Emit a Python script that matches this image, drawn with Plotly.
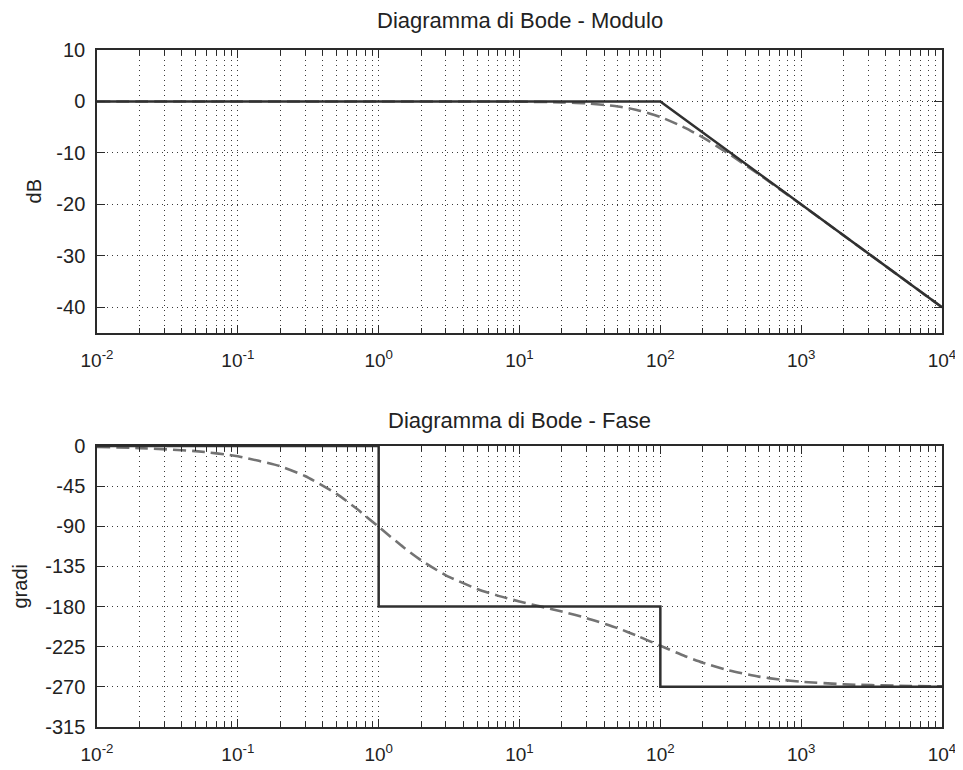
import plotly.graph_objects as go
from plotly.subplots import make_subplots

# ---- tick values / labels ----
freq_ticks = [0.01, 0.1, 1, 10, 100, 1000, 10000]
freq_tick_labels = ['10<sup>-2</sup>', '10<sup>-1</sup>', '10<sup>0</sup>', '10<sup>1</sup>',
                    '10<sup>2</sup>', '10<sup>3</sup>', '10<sup>4</sup>']
mag_ticks = [10, 0, -10, -20, -30, -40]
mag_tick_labels = ['10', '0', '-10', '-20', '-30', '-40']
phase_ticks = [0, -45, -90, -135, -180, -225, -270, -315]
phase_tick_labels = ['0', '-45', '-90', '-135', '-180', '-225', '-270', '-315']

# ---- magnitude: asymptotic (solid) ----
mag_asym_w = [0.01, 100, 10000]
mag_asym_db = [0, 0, -40]

# ---- magnitude: real (dashed) ----
mag_w = [0.01, 0.1, 1, 10, 20, 30, 50, 70, 100, 150, 200, 300, 500, 700, 1000, 2000, 5000, 10000]
mag_db = [0, 0, 0, -0.04, -0.17, -0.37, -0.97, -1.74, -3.01, -5.12, -6.99, -10.0, -14.15, -16.99,
          -20.04, -26.03, -33.98, -40.0]

# ---- phase: asymptotic (solid) ----
phase_asym_w = [0.01, 1, 1, 100, 100, 10000]
phase_asym_deg = [0, 0, -180, -180, -270, -270]

# ---- phase: real (dashed) ----
phase_w = [0.01, 0.02, 0.05, 0.1, 0.2, 0.3, 0.5, 0.7, 1, 1.5, 2, 3, 5, 7, 10, 15, 20, 30, 50, 70,
           100, 150, 200, 300, 500, 700, 1000, 2000, 5000, 10000]
phase_deg = [-1.1, -2.3, -5.7, -11.5, -22.7, -33.6, -53.4, -70.4, -90.6, -113.5, -128.0, -144.9,
             -160.2, -167.7, -174.3, -180.9, -185.6, -192.9, -204.3, -213.4, -223.9, -235.6,
             -242.9, -251.2, -258.5, -261.7, -264.2, -267.1, -268.8, -269.4]

titles = ['Diagramma di Bode - Modulo', 'Diagramma di Bode - Fase']
ytitles = ['dB', 'gradi']

minor_vals = [m * 10.0 ** k for k in range(-2, 4) for m in range(2, 10)]

AX = '#2a2a2a'
GRID = '#3a3a3a'
SOLID = '#303030'
DASH = '#737373'
FONT = 'Liberation Sans, Arial, Helvetica, sans-serif'

fig = make_subplots(rows=2, cols=1)

fig.add_trace(go.Scatter(x=mag_w, y=mag_db, mode='lines', line=dict(color=DASH, width=2.6, dash='13px,6px', shape='spline', smoothing=0.6)), row=1, col=1)
fig.add_trace(go.Scatter(x=mag_asym_w, y=mag_asym_db, mode='lines', line=dict(color=SOLID, width=2.5)), row=1, col=1)
fig.add_trace(go.Scatter(x=phase_w, y=phase_deg, mode='lines', line=dict(color=DASH, width=2.6, dash='13px,6px', shape='spline', smoothing=0.6)), row=2, col=1)
fig.add_trace(go.Scatter(x=phase_asym_w, y=phase_asym_deg, mode='lines', line=dict(color=SOLID, width=2.5)), row=2, col=1)

xcommon = dict(
    type='log', range=[-2, 4], tickmode='array', tickvals=freq_ticks, ticktext=freq_tick_labels,
    ticks='inside', ticklen=8, tickwidth=1.2, tickcolor=AX, tickfont=dict(size=19),
    showline=True, linecolor=AX, linewidth=1.5, mirror='ticks',
    showgrid=True, gridcolor=GRID, griddash='1px,4px', gridwidth=1, zeroline=False,
    ticklabelstandoff=9,
    minor=dict(tickmode='array', tickvals=minor_vals, ticks='inside', ticklen=5, tickwidth=1.2,
               tickcolor=AX, showgrid=True, gridcolor=GRID, griddash='1px,4px', gridwidth=1),
)
ycommon = dict(
    ticks='inside', ticklen=8, tickwidth=1.2, tickcolor=AX, tickfont=dict(size=20),
    showline=True, linecolor=AX, linewidth=1.5, mirror='ticks',
    showgrid=True, gridcolor=GRID, griddash='1px,4px', gridwidth=1, zeroline=False,
    ticklabelstandoff=6,
)

fig.update_xaxes(**xcommon)
fig.update_yaxes(**ycommon)
fig.update_yaxes(range=[-45, 10], tickmode='array', tickvals=mag_ticks, ticktext=mag_tick_labels, row=1, col=1)
fig.update_yaxes(range=[-315, 0], tickmode='array', tickvals=phase_ticks, ticktext=phase_tick_labels, row=2, col=1)

# page body has an 8px default margin: plot areas are placed so that they land
# at the reference pixel positions (x 97-942, y 50-333 and 446-727)
fig.update_layout(
    xaxis=dict(domain=[0, 1]), xaxis2=dict(domain=[0, 1]),
    yaxis=dict(domain=[0.582, 1.0]), yaxis2=dict(domain=[0.0, 0.415]),
)

annotations = [
    dict(text=titles[0], xref='x domain', yref='y domain', x=0.5, y=1, yshift=30,
         xanchor='center', yanchor='middle', showarrow=False, font=dict(size=22)),
    dict(text=titles[1], xref='x2 domain', yref='y2 domain', x=0.5, y=1, yshift=26,
         xanchor='center', yanchor='middle', showarrow=False, font=dict(size=22)),
    dict(text=ytitles[0], xref='x domain', yref='y domain', x=0, y=0.5, xshift=-63,
         xanchor='center', yanchor='middle', textangle=-90, showarrow=False, font=dict(size=20)),
    dict(text=ytitles[1], xref='x2 domain', yref='y2 domain', x=0, y=0.5, xshift=-77,
         xanchor='center', yanchor='middle', textangle=-90, showarrow=False, font=dict(size=20)),
]

fig.update_layout(
    width=963, height=770,
    margin=dict(l=89, r=29, t=42, b=51),
    plot_bgcolor='white', paper_bgcolor='white',
    showlegend=False,
    font=dict(family=FONT, size=20, color='#222222'),
    annotations=annotations,
)

fig.write_html('out.html')
